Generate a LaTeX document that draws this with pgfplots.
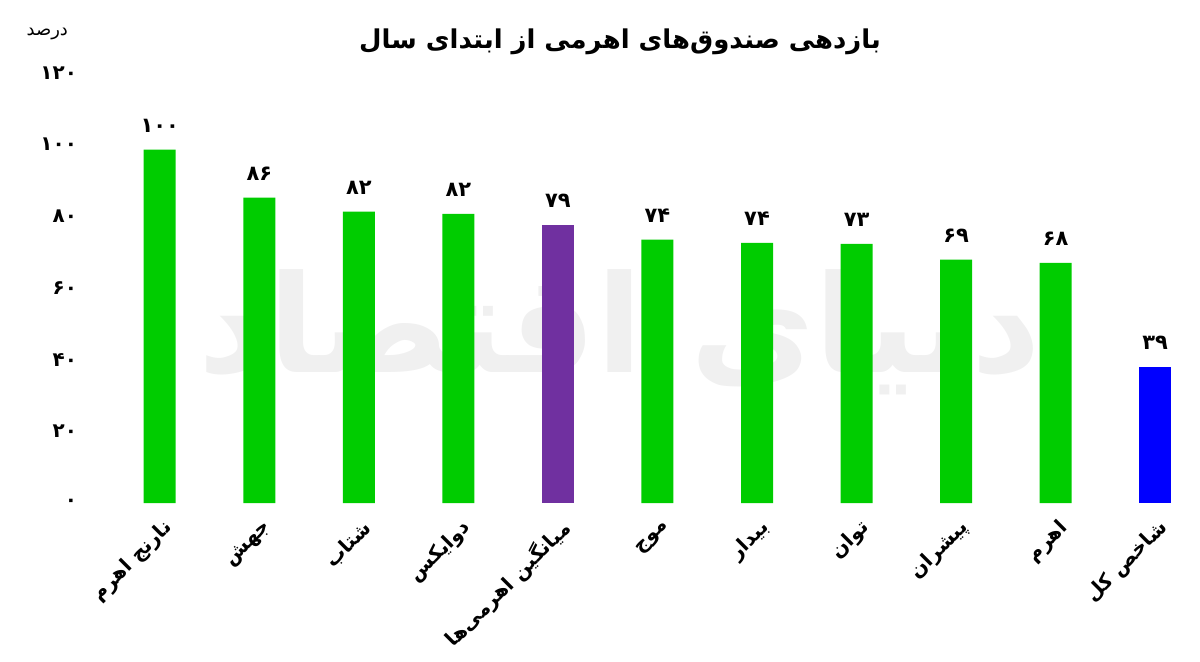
\documentclass[border=0pt]{standalone}
\usepackage{fontspec}
\usepackage{pgfplots}
\pgfplotsset{compat=1.18}
\newfontfamily\arabicfont[Script=Arabic]{DejaVu Sans}
\TeXXeTstate=1
\definecolor{bargreen}{RGB}{0,204,0}
\definecolor{barpurple}{RGB}{112,48,160}
\definecolor{barblue}{RGB}{0,0,255}
\definecolor{wm}{RGB}{240,240,240}
\begin{document}
\begin{tikzpicture}
\useasboundingbox (0,0) rectangle (600bp,331bp);
\node[text=wm, font=\arabicfont\bfseries\fontsize{68}{68}\selectfont] at (310bp,165bp) {\beginR دنیای اقتصاد\endR};
\node[font=\arabicfont\bfseries\fontsize{13}{15}\selectfont] at (310bp,310bp) {\beginR بازدهی صندوق^^^^200cهای اهرمی از ابتدای سال\endR};
\node[anchor=east, font=\arabicfont\fontsize{9}{11}\selectfont] at (37.5bp,314bp) {\beginR درصد\endR};
\begin{axis}[
  at={(50bp,79.5bp)}, anchor=south west,
  scale only axis, width=547.5bp, height=215bp,
  xmin=-0.6, xmax=10.4, ymin=0, ymax=120,
  axis line style={draw=none}, tick style={draw=none},
  ytick={0,20,40,60,80,100,120},
  yticklabels={۰,۲۰,۴۰,۶۰,۸۰,۱۰۰,۱۲۰},
  yticklabel style={font=\arabicfont\bfseries\fontsize{10}{12}\selectfont, anchor=east, xshift=-8bp},
  xtick={0,1,2,3,4,5,6,7,8,9,10},
  xticklabels={
    {\beginR نارنج اهرم\endR},
    {\beginR جهش\endR},
    {\beginR شتاب\endR},
    {\beginR دوایکس\endR},
    {\beginR میانگین اهرمی^^^^200cها\endR},
    {\beginR موج\endR},
    {\beginR بیدار\endR},
    {\beginR توان\endR},
    {\beginR پیشران\endR},
    {\beginR اهرم\endR},
    {\beginR شاخص کل\endR}},
  xticklabel style={rotate=45, anchor=east, font=\arabicfont\bfseries\fontsize{10}{12}\selectfont, yshift=-8bp, xshift=2bp},
  ybar, bar width=16bp,
  nodes near coords, point meta=explicit symbolic,
  nodes near coords style={font=\arabicfont\bfseries\fontsize{10.5}{12}\selectfont, yshift=5bp, text=black},
  clip=false,
]
\addplot[bar shift=0pt, fill=bargreen, draw=none] coordinates {
  (0,98.6)[۱۰۰] (1,85.2)[۸۶] (2,81.3)[۸۲] (3,80.7)[۸۲]
  (5,73.5)[۷۴] (6,72.6)[۷۴] (7,72.3)[۷۳] (8,67.9)[۶۹] (9,67.0)[۶۸]};
\addplot[bar shift=0pt, fill=barpurple, draw=none] coordinates {(4,77.7)[۷۹]};
\addplot[bar shift=0pt, fill=barblue, draw=none] coordinates {(10,38.0)[۳۹]};
\end{axis}
\end{tikzpicture}
\end{document}
